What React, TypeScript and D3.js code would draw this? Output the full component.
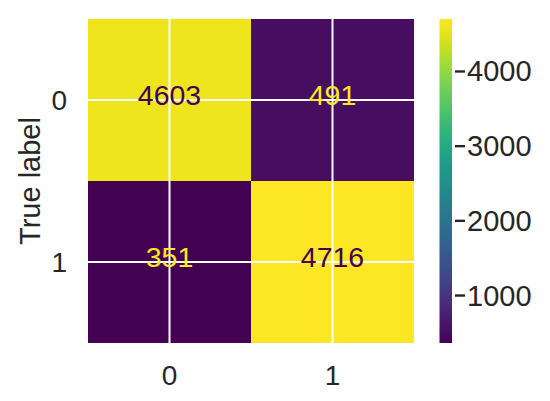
import React from "react";
import * as d3 from "d3";

const trueLabels = ["0", "1"];
const predLabels = ["0", "1"];
const matrix = [
  [4603, 491],
  [351, 4716],
];
const colorbarTicks = [1000, 2000, 3000, 4000];
const yAxisTitle = "True label";

const W = 550;
const H = 401;
const FONT = "'Liberation Sans', Arial, sans-serif";
const TEXT = "#262626";

export default function App() {
  const left = 88, right = 414, top = 19, bottom = 343;
  const x = d3.scaleBand<string>().domain(predLabels).range([left, right]);
  const y = d3.scaleBand<string>().domain(trueLabels).range([top, bottom]);
  const flat = matrix.flat();
  const vmin = d3.min(flat)!;
  const vmax = d3.max(flat)!;
  const color = d3.scaleSequential(d3.interpolateViridis).domain([vmin, vmax]);
  const cbX0 = 439.5, cbX1 = 452;
  const cbY = d3.scaleLinear().domain([vmin, vmax]).range([bottom + 1, top - 1]);
  const stops = d3.range(0, 1.0001, 0.05);
  const mid = (vmin + vmax) / 2;

  const cells: any[] = [];
  trueLabels.forEach((t, i) =>
    predLabels.forEach((p, j) => {
      cells.push({ t, p, v: matrix[i][j] });
    })
  );

  return (
    <svg
      width={W}
      height={H}
      style={{ position: "absolute", left: 0, top: 0, background: "#fff" }}
      fontFamily={FONT}
    >
      <defs>
        <linearGradient id="cb" x1="0" y1="1" x2="0" y2="0">
          {stops.map((s) => (
            <stop key={s} offset={s} stopColor={d3.interpolateViridis(s)} />
          ))}
        </linearGradient>
      </defs>
      {cells.map((c) => (
        <rect
          key={c.t + c.p}
          x={x(c.p)}
          y={y(c.t)}
          width={x.bandwidth()}
          height={y.bandwidth()}
          fill={color(c.v)}
        />
      ))}
      {predLabels.map((p) => (
        <line
          key={"gx" + p}
          x1={x(p)! + x.bandwidth() / 2}
          x2={x(p)! + x.bandwidth() / 2}
          y1={top}
          y2={bottom}
          stroke="#fff"
          strokeWidth={2}
        />
      ))}
      {trueLabels.map((t) => (
        <line
          key={"gy" + t}
          y1={y(t)! + y.bandwidth() / 2}
          y2={y(t)! + y.bandwidth() / 2}
          x1={left}
          x2={right}
          stroke="#fff"
          strokeWidth={2}
        />
      ))}
      {cells.map((c) => (
        <text
          key={"a" + c.t + c.p}
          x={x(c.p)! + x.bandwidth() / 2}
          y={y(c.t)! + y.bandwidth() / 2 + 5}
          textAnchor="middle"
          fontSize={28.5}
          fill={c.v < mid ? color(vmax) : color(vmin)}
        >
          {c.v}
        </text>
      ))}
      {trueLabels.map((t) => (
        <text
          key={"yt" + t}
          x={67}
          y={y(t)! + y.bandwidth() / 2 + 10}
          textAnchor="end"
          fontSize={28}
          fill={TEXT}
        >
          {t}
        </text>
      ))}
      {predLabels.map((p) => (
        <text
          key={"xt" + p}
          x={x(p)! + x.bandwidth() / 2}
          y={385}
          textAnchor="middle"
          fontSize={28}
          fill={TEXT}
        >
          {p}
        </text>
      ))}
      <text
        transform={`translate(40,${(top + bottom) / 2}) rotate(-90)`}
        textAnchor="middle"
        fontSize={29}
        fill={TEXT}
      >
        {yAxisTitle}
      </text>
      <rect x={cbX0} y={top} width={cbX1 - cbX0} height={bottom - top} fill="url(#cb)" />
      {colorbarTicks.map((tk) => (
        <g key={"cb" + tk}>
          <line
            x1={cbX1 + 3}
            x2={cbX1 + 13}
            y1={cbY(tk)}
            y2={cbY(tk)}
            stroke={TEXT}
            strokeWidth={2.4}
          />
          <text x={cbX1 + 15} y={cbY(tk) + 10} fontSize={29} fill={TEXT}>
            {tk}
          </text>
        </g>
      ))}
    </svg>
  );
}
